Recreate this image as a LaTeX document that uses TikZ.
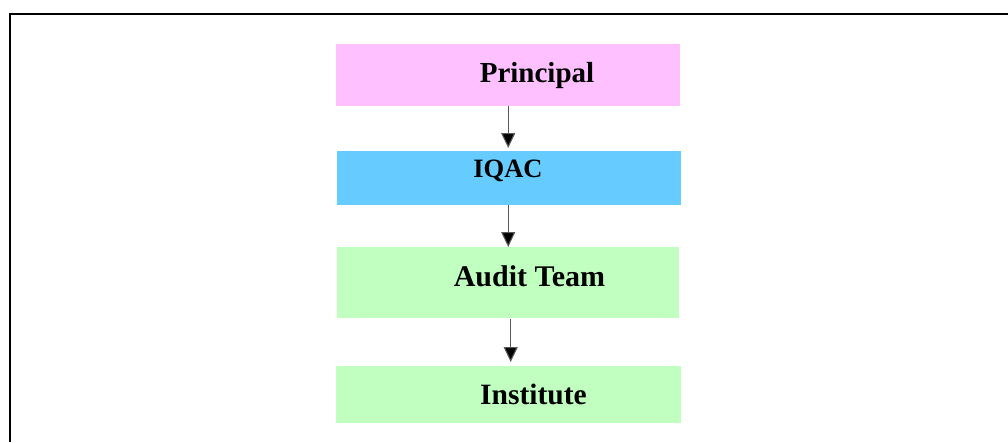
\documentclass[tikz,border=0pt]{standalone}
\usepackage{fontspec}
\setmainfont{Liberation Serif}
\usetikzlibrary{arrows.meta}
\definecolor{pinkbox}{HTML}{FFC0FF}
\definecolor{bluebox}{HTML}{66CCFF}
\definecolor{greenbox}{HTML}{C0FFC0}
\begin{document}
\begin{tikzpicture}[x=1pt,y=-1pt,
  boxstyle/.style={rectangle,draw=none,inner sep=0pt,anchor=north west},
  labelstyle/.style={anchor=base,inner sep=0pt,font=\bfseries},
  flow/.style={draw=black!65,line width=1.1pt,-{Triangle[width=14pt,length=15pt,fill=black]}}]
\useasboundingbox (0,0) rectangle (1008,442);
\draw[line width=2.8pt,black] (10,442) -- (10,14) -- (1008,14);
\node[boxstyle,fill=pinkbox,minimum width=344pt,minimum height=62pt] (p) at (336,44) {};
\node[boxstyle,fill=bluebox,minimum width=344pt,minimum height=54pt] (q) at (337,151) {};
\node[boxstyle,fill=greenbox,minimum width=342pt,minimum height=71pt] (a) at (337,247) {};
\node[boxstyle,fill=greenbox,minimum width=345pt,minimum height=57pt] (n) at (336,366) {};
\node[labelstyle,font=\fontsize{29}{34}\selectfont\bfseries] (pt) at (537,82.7) {Principal};
\node[labelstyle,font=\fontsize{26.5}{31}\selectfont\bfseries] (qt) at (508,177.7) {IQAC};
\node[labelstyle,font=\fontsize{30}{35}\selectfont\bfseries] (at) at (529.5,286) {Audit Team};
\node[labelstyle,font=\fontsize{29.5}{35}\selectfont\bfseries] (nt) at (533.5,404) {Institute};
\draw[flow,shorten >=3pt] (p.south) -- (p.south |- q.north);
\draw[flow] (a.north |- q.south) -- (a.north);
\draw[flow,shorten <=1pt,shorten >=4pt] ([xshift=2.5pt]a.south) -- ([xshift=2.5pt]a.south |- n.north);
\end{tikzpicture}
\end{document}
